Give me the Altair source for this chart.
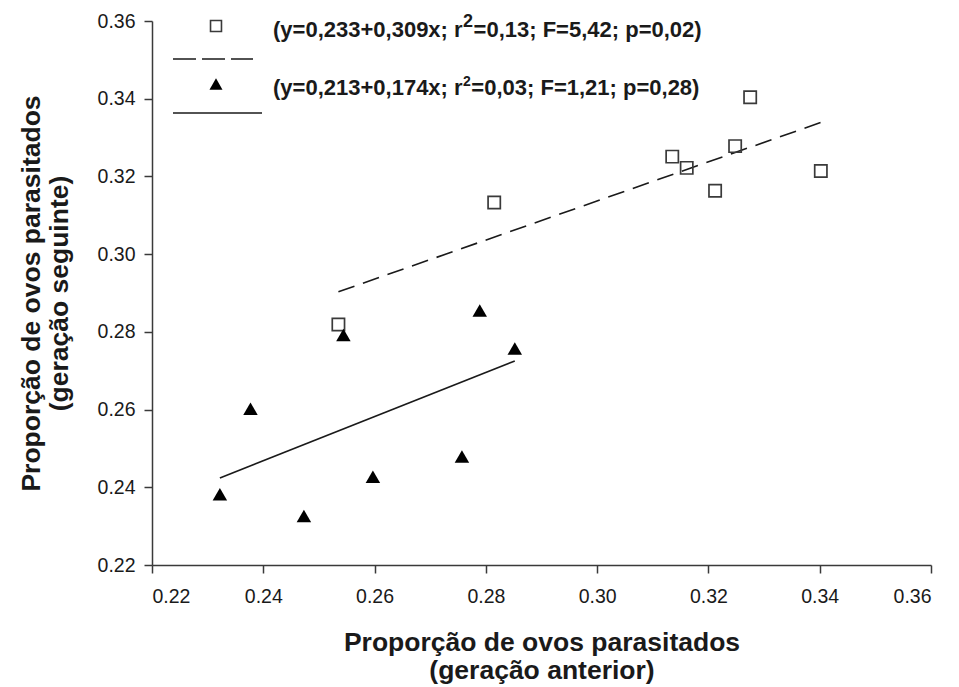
import altair as alt
import pandas as pd

# ---- data ----
sq_x = [0.2535, 0.2815, 0.3135, 0.3161, 0.3212, 0.3248, 0.3275, 0.3402]
sq_y = [0.2819, 0.3133, 0.3251, 0.3222, 0.3163, 0.3278, 0.3404, 0.3214]
tri_x = [0.2322, 0.2377, 0.2473, 0.2544, 0.2597, 0.2757, 0.2789, 0.2852]
tri_y = [0.2382, 0.2602, 0.2326, 0.2792, 0.2427, 0.2479, 0.2855, 0.2757]
dash_x = [0.2535, 0.3402]
dash_y = [0.2903, 0.3339]
solid_x = [0.2322, 0.2852]
solid_y = [0.2424, 0.2725]
legend_prefix = ["(y=0,233+0,309x; r", "(y=0,213+0,174x; r"]
legend_sup = ["2", "2"]
legend_suffix = ["=0,13; F=5,42; p=0,02)", "=0,03; F=1,21; p=0,28)"]
ticks = [0.22, 0.24, 0.26, 0.28, 0.30, 0.32, 0.34, 0.36]
x_title = ["Proporção de ovos parasitados", "(geração anterior)"]
y_title = ["Proporção de ovos parasitados", "(geração seguinte)"]

FONT = "Liberation Sans"
INK = "#1a1a1a"
AX = "#3a3a3a"
LFS = 22            # legend font size
PREFIX_EM = 8.617   # Arial-bold advance of the prefix, in em

sq = pd.DataFrame({"x": sq_x, "y": sq_y})
tri = pd.DataFrame({"x": tri_x, "y": tri_y})
dash = pd.DataFrame({"x": dash_x, "y": dash_y})
solid = pd.DataFrame({"x": solid_x, "y": solid_y})


def axis(title, is_x):
    return alt.Axis(
        values=ticks, format=".2f", grid=False,
        domainColor=AX, domainWidth=1.5, tickColor=AX, tickWidth=1.5, tickSize=8,
        labelFont=FONT, labelFontSize=19.5, labelColor=INK,
        labelPadding=14 if is_x else 9,
        title=title, titleFont=FONT, titleFontSize=26.5, titleFontWeight="bold",
        titleColor=INK, titlePadding=24 if is_x else 24, titleLineHeight=28,
    )


xs = alt.Scale(domain=[0.22, 0.36], nice=False, zero=False)
ys = alt.Scale(domain=[0.22, 0.36], nice=False, zero=False)
X = alt.X("x:Q", scale=xs, axis=axis(x_title, True))
Y = alt.Y("y:Q", scale=ys, axis=axis(y_title, False))

solid_line = alt.Chart(solid).mark_line(color=INK, strokeWidth=1.6).encode(x=X, y=Y)
dash_line = alt.Chart(dash).mark_line(color=INK, strokeWidth=1.6, strokeDash=[17, 9]).encode(x=X, y=Y)
squares = alt.Chart(sq).mark_point(shape="square", filled=False, size=150, stroke=AX,
                                   strokeWidth=1.7, opacity=1).encode(x=X, y=Y)
triangles = alt.Chart(tri).mark_point(shape="triangle-up", filled=True, size=210,
                                      color="black", opacity=1).encode(x=X, y=Y)

one = pd.DataFrame({"pre": [legend_prefix[0]], "sup": [legend_sup[0]], "suf": [legend_suffix[0]]})
two = pd.DataFrame({"pre": [legend_prefix[1]], "sup": [legend_sup[1]], "suf": [legend_suffix[1]]})

leg_sq = alt.Chart(one).mark_point(shape="square", filled=False, size=120, stroke=AX,
                                   strokeWidth=1.6, opacity=1).encode(
    x=alt.value(64), y=alt.value(5))
leg_dash = alt.Chart(one).mark_rule(color=INK, strokeWidth=1.6, strokeDash=[23, 6]).encode(
    x=alt.value(21), x2=alt.value(101), y=alt.value(38))
leg_tri = alt.Chart(two).mark_point(shape="triangle-up", filled=True, size=170,
                                    color="black", opacity=1).encode(
    x=alt.value(64), y=alt.value(63))
leg_solid = alt.Chart(two).mark_rule(color=INK, strokeWidth=1.6).encode(
    x=alt.value(21), x2=alt.value(110), y=alt.value(92))

TX = 121


def legend_text(df, base_y, sup_size, sup_raise):
    common = dict(align="left", baseline="alphabetic", font=FONT, fontWeight="bold", color=INK)
    pre_w = PREFIX_EM * LFS
    sup_w = 0.556 * sup_size
    pre = alt.Chart(df).mark_text(fontSize=LFS, **common).encode(
        x=alt.value(TX), y=alt.value(base_y), text="pre:N")
    sup = alt.Chart(df).mark_text(fontSize=sup_size, **common).encode(
        x=alt.value(TX + pre_w + 0.5), y=alt.value(base_y - sup_raise), text="sup:N")
    suf = alt.Chart(df).mark_text(fontSize=LFS, **common).encode(
        x=alt.value(TX + pre_w + sup_w + 1), y=alt.value(base_y), text="suf:N")
    return [pre, sup, suf]


texts = legend_text(one, 16, 18, 10) + legend_text(two, 74, 14, 9)

chart = alt.layer(
    dash_line, solid_line, squares, triangles,
    leg_sq, leg_dash, leg_tri, leg_solid, *texts,
).properties(
    width=779, height=544,
    autosize=alt.AutoSizeParams(type="none"),
    padding={"left": 152, "top": 21, "right": 28, "bottom": 122},
    background="white",
).configure_view(stroke=None)

chart.save("out.html", embed_options={"renderer": "svg", "actions": False})
